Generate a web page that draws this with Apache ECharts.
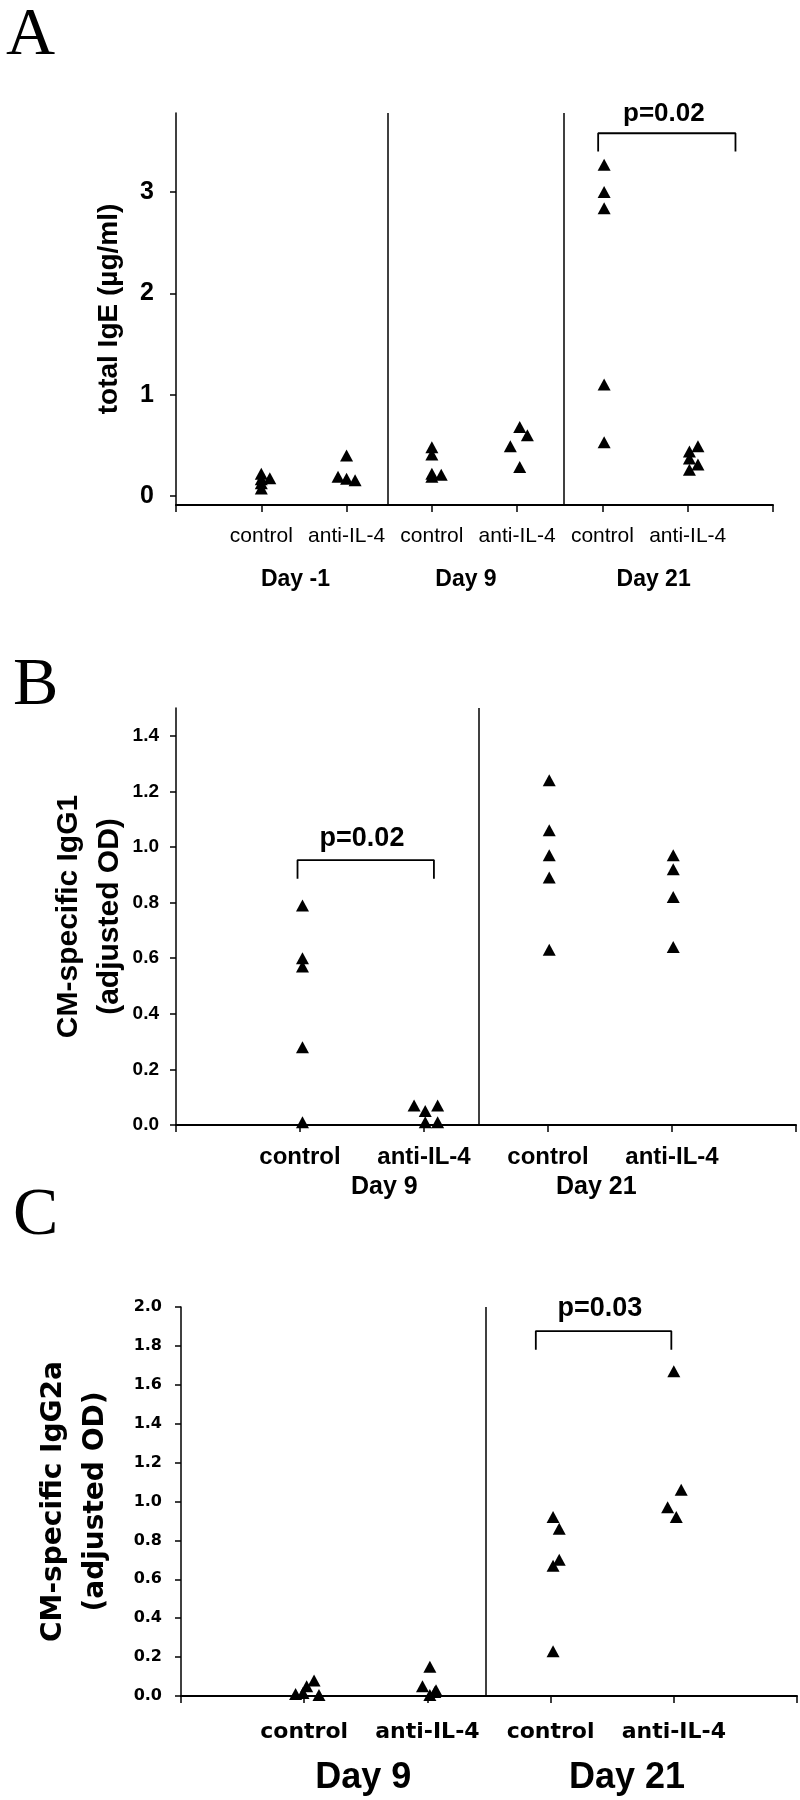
<!DOCTYPE html>
<html>
<head>
<meta charset="utf-8">
<script src="https://cdn.jsdelivr.net/npm/echarts@6/dist/echarts.min.js"></script>
<style>
  html, body { margin: 0; padding: 0; background: #fff; }
  #chart { width: 800px; height: 1800px; }
</style>
</head>
<body>
<div id="chart"></div>
<script>
// ---------------- DATA ----------------
const groupLabels = ['control', 'anti-IL-4'];
const daysA = ['Day -1', 'Day 9', 'Day 21'];
const daysBC = ['Day 9', 'Day 21'];
const yTicksA = [0, 1, 2, 3];
const yTicksB = [0, 0.2, 0.4, 0.6, 0.8, 1.0, 1.2, 1.4];
const yTicksC = [0, 0.2, 0.4, 0.6, 0.8, 1.0, 1.2, 1.4, 1.6, 1.8, 2.0];

// Panel A: total IgE (ug/ml)
const A_dm1_control = [0.22, 0.165, 0.125, 0.075, 0.175];
const A_dm1_anti    = [0.40, 0.19, 0.17, 0.155];
const A_d9_control  = [0.48, 0.41, 0.22, 0.19, 0.21];
const A_d9_anti     = [0.68, 0.60, 0.49, 0.285];
const A_d21_control = [3.27, 3.00, 2.84, 1.10, 0.53];
const A_d21_anti    = [0.44, 0.49, 0.37, 0.31, 0.26];
const pA = 'p=0.02';

// Panel B: CM-specific IgG1 (adjusted OD)
const B_d9_control  = [0.79, 0.60, 0.57, 0.28, 0.01];
const B_d9_anti     = [0.07, 0.05, 0.07, 0.01, 0.01];
const B_d21_control = [1.24, 1.06, 0.97, 0.89, 0.63];
const B_d21_anti    = [0.97, 0.92, 0.82, 0.64];
const pB = 'p=0.02';

// Panel C: CM-specific IgG2a (adjusted OD)
const C_d9_control  = [0.01, 0.05, 0.08, 0.005, 0.015];
const C_d9_anti     = [0.15, 0.05, 0.03, 0.005, 0.02];
const C_d21_control = [0.92, 0.86, 0.70, 0.67, 0.23];
const C_d21_anti    = [1.67, 1.06, 0.97, 0.92];
const pC = 'p=0.03';

// ---------------- LAYOUT (jitter of overlapping points) ----------------
const jitA = [[0,0,0,0,0.1],[0,-0.1,0,0.1],[0,0,0,0,0.11],[0.03,0.12,-0.08,0.03],[0.02,0.02,0.02,0.02,0.02],[0.02,0.12,0.02,0.12,0.02]];
const jitB = [[0.02,0.02,0.02,0.02,0.02],[-0.08,0.01,0.11,0.01,0.11],[0.01,0.01,0.01,0.01,0.01],[0.01,0.01,0.01,0.01]];
const jitC = [[-0.07,0.02,0.08,0.12,-0.01],[0.02,-0.04,0.07,0.02,0.06],[0.02,0.07,0.07,0.02,0.02],[0,0.06,-0.05,0.02]];

function pts(groups, jit) {
  const out = [];
  groups.forEach((vals, g) => vals.forEach((v, i) => out.push([g + 1 + jit[g][i], v])));
  return out;
}

const SANS = '"Liberation Sans", Arial, sans-serif';
const DJV = '"DejaVu Sans", sans-serif';
const BLACK = '#000';

function mainX(grid, max, labelStyle) {
  const ticks = []; for (let i = 0; i <= max; i++) ticks.push(i);
  const labs = []; for (let i = 1; i < max; i++) labs.push(i);
  return {
    type: 'value', gridIndex: grid, min: 0, max: max, position: 'bottom',
    axisLine: { onZero: false, lineStyle: { color: BLACK, width: 2 } },
    axisTick: { show: true, customValues: ticks, length: 7, lineStyle: { color: BLACK, width: 1.5 } },
    axisLabel: Object.assign({
      customValues: labs, color: BLACK, hideOverlap: false,
      formatter: v => groupLabels[(Math.round(v) - 1) % 2]
    }, labelStyle),
    splitLine: { show: false }
  };
}
function dayX(grid, max, pos, names, labelStyle) {
  return {
    type: 'value', gridIndex: grid, min: 0, max: max, position: 'bottom',
    axisLine: { show: false, onZero: false }, axisTick: { show: false },
    axisLabel: Object.assign({
      customValues: pos, color: BLACK, hideOverlap: false,
      formatter: v => names[pos.indexOf(v)]
    }, labelStyle),
    splitLine: { show: false }
  };
}
function yAx(grid, min, max, ticks, name, labelStyle, nameStyle, gap, dec) {
  return {
    type: 'value', gridIndex: grid, min: min, max: max,
    axisLine: { show: true, onZero: false, lineStyle: { color: BLACK, width: 1.5 } },
    axisTick: { show: true, customValues: ticks, length: 6, lineStyle: { color: BLACK, width: 1.5 } },
    axisLabel: Object.assign({
      customValues: ticks, color: BLACK,
      formatter: v => v.toFixed(dec)
    }, labelStyle),
    splitLine: { show: false },
    name: name, nameLocation: 'middle', nameRotate: 90, nameGap: gap,
    nameMoveOverlap: false,
    nameTextStyle: Object.assign({ color: BLACK }, nameStyle)
  };
}
function scatterS(xi, yi, data, seps) {
  return {
    type: 'scatter', xAxisIndex: xi, yAxisIndex: yi, clip: false,
    symbol: 'triangle', symbolSize: [13, 12],
    itemStyle: { color: BLACK, opacity: 1 },
    emphasis: { disabled: true },
    data: data,
    markLine: {
      silent: true, symbol: 'none', animation: false,
      label: { show: false },
      lineStyle: { color: BLACK, width: 1.5, type: 'solid', opacity: 1 },
      data: seps.map(s => ({ xAxis: s }))
    }
  };
}
function bracketS(xi, yi, x1, x2, yTop, yLeg) {
  return {
    type: 'line', xAxisIndex: xi, yAxisIndex: yi, symbol: 'none', clip: false,
    lineStyle: { color: BLACK, width: 1.8, opacity: 1 },
    emphasis: { disabled: true },
    data: [[x1, yLeg], [x1, yTop], [x2, yTop], [x2, yLeg]]
  };
}
function pText(xi, yi, x, y, text, style) {
  return {
    type: 'scatter', xAxisIndex: xi, yAxisIndex: yi, clip: false,
    symbolSize: 0, itemStyle: { opacity: 1, color: BLACK },
    emphasis: { disabled: true },
    data: [[x, y]],
    label: Object.assign({ show: true, position: 'inside', color: BLACK, opacity: 1, formatter: text }, style)
  };
}

const option = {
  animation: false,
  backgroundColor: '#fff',
  grid: [
    { left: 176, top: 113, width: 597, height: 392 },
    { left: 176, top: 708, width: 620, height: 417 },
    { left: 181, top: 1307, width: 616, height: 389 }
  ],
  xAxis: [
    mainX(0, 7, { fontSize: 21, fontFamily: SANS, margin: 21 }),
    dayX(0, 7, [1.4, 3.4, 5.6], daysA, { fontSize: 23, fontWeight: 'bold', fontFamily: SANS, margin: 63 }),
    mainX(1, 5, { fontSize: 24, fontWeight: 'bold', fontFamily: SANS, margin: 20 }),
    dayX(1, 5, [1.68, 3.39], daysBC, { fontSize: 25, fontWeight: 'bold', fontFamily: SANS, margin: 50 }),
    mainX(2, 5, { fontSize: 22, fontWeight: 'bold', fontFamily: DJV, margin: 25 }),
    dayX(2, 5, [1.48, 3.62], daysBC, { fontSize: 36, fontWeight: 'bold', fontFamily: SANS, margin: 64 })
  ],
  yAxis: [
    yAx(0, -0.089, 3.78, yTicksA, 'total IgE (µg/ml)',
        { fontSize: 25, fontWeight: 'bold', fontFamily: SANS, margin: 22 },
        { fontSize: 28, fontWeight: 'bold', fontFamily: SANS }, 53, 0),
    yAx(1, 0, 1.5, yTicksB, 'CM-specific IgG1\n(adjusted OD)',
        { fontSize: 19, fontWeight: 'bold', fontFamily: SANS, margin: 17 },
        { fontSize: 30, fontWeight: 'bold', fontFamily: SANS, lineHeight: 41 }, 46, 1),
    yAx(2, 0, 2.0, yTicksC, 'CM-specific IgG2a\n(adjusted OD)',
        { fontSize: 16, fontWeight: 'bold', fontFamily: DJV, margin: 19 },
        { fontSize: 28, fontWeight: 'bold', fontFamily: DJV, lineHeight: 42 }, 64, 1)
  ],
  series: [
    scatterS(0, 0, pts([A_dm1_control, A_dm1_anti, A_d9_control, A_d9_anti, A_d21_control, A_d21_anti], jitA), [2.48, 4.55]),
    bracketS(0, 0, 4.95, 6.56, 3.58, 3.40),
    pText(0, 0, 5.72, 3.77, pA, { fontSize: 26, fontWeight: 'bold', fontFamily: SANS }),

    scatterS(2, 1, pts([B_d9_control, B_d9_anti, B_d21_control, B_d21_anti], jitB), [2.44]),
    bracketS(2, 1, 0.98, 2.08, 0.953, 0.886),
    pText(2, 1, 1.50, 1.03, pB, { fontSize: 27, fontWeight: 'bold', fontFamily: SANS }),

    scatterS(4, 2, pts([C_d9_control, C_d9_anti, C_d21_control, C_d21_anti], jitC), [2.47]),
    bracketS(4, 2, 2.88, 3.98, 1.876, 1.78),
    pText(4, 2, 3.40, 1.99, pC, { fontSize: 27, fontWeight: 'bold', fontFamily: SANS })
  ],
  graphic: [
    { type: 'text', left: 6, top: 2, style: { text: 'A', font: '68px "Liberation Serif", "Times New Roman", serif', fill: BLACK } },
    { type: 'text', left: 13, top: 652, style: { text: 'B', font: '68px "Liberation Serif", "Times New Roman", serif', fill: BLACK } },
    { type: 'text', left: 13, top: 1182, style: { text: 'C', font: '68px "Liberation Serif", "Times New Roman", serif', fill: BLACK } }
  ]
};

const chart = echarts.init(document.getElementById('chart'), null, { renderer: 'canvas', width: 800, height: 1800 });
chart.setOption(option);
</script>
</body>
</html>
